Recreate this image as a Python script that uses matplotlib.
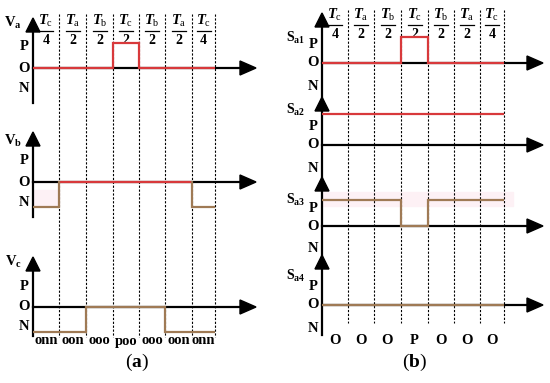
import matplotlib.pyplot as plt
from matplotlib.patches import Polygon, Rectangle

plt.rcParams['mathtext.fontset'] = 'custom'
plt.rcParams['mathtext.rm'] = 'Liberation Serif'
plt.rcParams['mathtext.it'] = 'Liberation Serif:italic:bold'
plt.rcParams['mathtext.bf'] = 'Liberation Serif:bold'
plt.rcParams['font.family'] = 'Liberation Serif'

# time slices of the switching period
num_sub = ['c', 'a', 'b', 'c', 'b', 'a', 'c']
den = ['4', '2', '2', '2', '2', '2', '4']

# (a) phase voltages, level: 1 = P, 0 = O, -1 = N
va = [0, 0, 0, 1, 0, 0, 0]
vb = [-1, 0, 0, 0, 0, 0, -1]
vc = [-1, -1, 0, 0, 0, -1, -1]
states = ['onn', 'oon', 'ooo', 'poo', 'ooo', 'oon', 'onn']

# (b) switch signals, 1 = on, 0 = off
sa1 = [0, 0, 0, 1, 0, 0, 0]
sa2 = [1, 1, 1, 1, 1, 1, 1]
sa3 = [1, 1, 1, 0, 1, 1, 1]
sa4 = [0, 0, 0, 0, 0, 0, 0]
out_level = ['O', 'O', 'O', 'P', 'O', 'O', 'O']

RED = '#d8393b'
BROWN = '#9f7a55'
PINK = '#fdf1f5'

fig = plt.figure(figsize=(5.5, 3.83), dpi=100)
ax = fig.add_axes([0, 0, 1, 1])
ax.set_xlim(0, 550)
ax.set_ylim(383, 0)
ax.axis('off')

left_x = [33, 59, 86, 113, 139, 165, 192, 215]
right_x = [322, 348, 374, 401, 428, 454, 480, 504]


def arrow_up(x, tip):
    ax.add_patch(Polygon([(x, tip), (x - 7, tip + 14), (x + 7, tip + 14)],
                         closed=True, color='k', zorder=5))


def arrow_right(tip, y):
    ax.add_patch(Polygon([(tip, y), (tip - 16, y - 7), (tip - 16, y + 7)],
                         closed=True, color='k', zorder=5))


def step(xs, levels, y0, dy, colors):
    for i, lv in enumerate(levels):
        y = y0 - lv * dy
        ax.plot([xs[i], xs[i + 1]], [y, y], color=colors[lv], lw=1.6,
                zorder=4, solid_capstyle='butt')
        if i > 0 and levels[i] != levels[i - 1]:
            yp = y0 - levels[i - 1] * dy
            ax.plot([xs[i], xs[i]], [yp, y],
                    color=colors[min(lv, levels[i - 1])], lw=1.6, zorder=4)


def headers(xs, ytop):
    for i in range(len(den)):
        xc = (xs[i] + xs[i + 1]) / 2
        ax.text(xc, ytop, r'$T_\mathrm{%s}$' % num_sub[i], ha='center',
                va='center', fontsize=10.5)
        ax.plot([xc - 7, xc + 7], [ytop + 10, ytop + 10], color='k', lw=0.9)
        ax.text(xc, ytop + 20, den[i], ha='center', va='center',
                fontsize=10, fontweight='bold')


# dashed slice boundaries
for x in left_x[1:]:
    ax.plot([x, x], [14, 337], color='k', lw=0.8, ls=(0, (2, 1.5)), zorder=1)
for x in right_x[1:]:
    ax.plot([x, x], [10, 323], color='k', lw=0.8, ls=(0, (2, 1.5)), zorder=1)

headers(left_x, 21)
headers(right_x, 15)

# ---- panel (a)
rows_a = [
    (r'$\mathbf{V}_\mathbf{a}$', va, 68, 18, 103, 23, {1: RED, 0: RED, -1: RED}),
    (r'$\mathbf{V}_\mathbf{b}$', vb, 182, 132, 217, 141, {1: RED, 0: RED, -1: BROWN}),
    (r'$\mathbf{V}_\mathbf{c}$', vc, 307, 257, 336, 262, {1: BROWN, 0: BROWN, -1: BROWN}),
]
for label, lv, y0, tip, bot, ylab, cols in rows_a:
    ax.plot([33, 33], [tip + 10, bot], color='k', lw=1.6, zorder=3)
    arrow_up(33, tip)
    ax.plot([33, 242], [y0, y0], color='k', lw=1.6, zorder=3)
    arrow_right(256, y0)
    ax.text(13, ylab, label, ha='center', va='center', fontsize=10.5)
    for name, off in [('P', -21), ('O', 0), ('N', 20)]:
        ax.text(24, y0 + off, name, ha='center', va='center', fontsize=10.5,
                fontweight='bold')
    step(left_x, lv, y0, 25, cols)

ax.add_patch(Rectangle((34, 190), 25, 16, color=PINK, zorder=0))
for i, s in enumerate(states):
    ax.text((left_x[i] + left_x[i + 1]) / 2, 341, s, ha='center',
            va='center', fontsize=10.5, fontweight='bold')
ax.text(137, 362, r'($\mathbf{a}$)', ha='center', va='center', fontsize=14)

# ---- panel (b)
rows_b = [
    (r'$\mathbf{S}_\mathbf{a1}$', sa1, 63, 13, 38, RED),
    (r'$\mathbf{S}_\mathbf{a2}$', sa2, 145, 97, 110, RED),
    (r'$\mathbf{S}_\mathbf{a3}$', sa3, 226, 177, 200, BROWN),
    (r'$\mathbf{S}_\mathbf{a4}$', sa4, 305, 255, 276, BROWN),
]
ax.plot([322, 322], [20, 335], color='k', lw=1.6, zorder=3)
ax.add_patch(Rectangle((323, 192), 190, 14, color=PINK, zorder=0))
for label, lv, y0, tip, ylab, col in rows_b:
    arrow_up(322, tip)
    ax.plot([322, 529], [y0, y0], color='k', lw=1.6, zorder=3)
    arrow_right(543, y0)
    ax.text(305, ylab, label, ha='right', va='center', fontsize=10)
    for name, off in [('P', -18), ('O', 0), ('N', 23)]:
        ax.text(313, y0 + off, name, ha='center', va='center', fontsize=10.5,
                fontweight='bold')
    dy = 31 if lv is sa2 else 26
    step(right_x, lv, y0, dy, {0: col, 1: col})

for i, s in enumerate(out_level):
    ax.text((right_x[i] + right_x[i + 1]) / 2, 341, s, ha='center',
            va='center', fontsize=10.5, fontweight='bold')
ax.text(415, 362, r'($\mathbf{b}$)', ha='center', va='center', fontsize=14)

fig.savefig('out.png', dpi=100)
